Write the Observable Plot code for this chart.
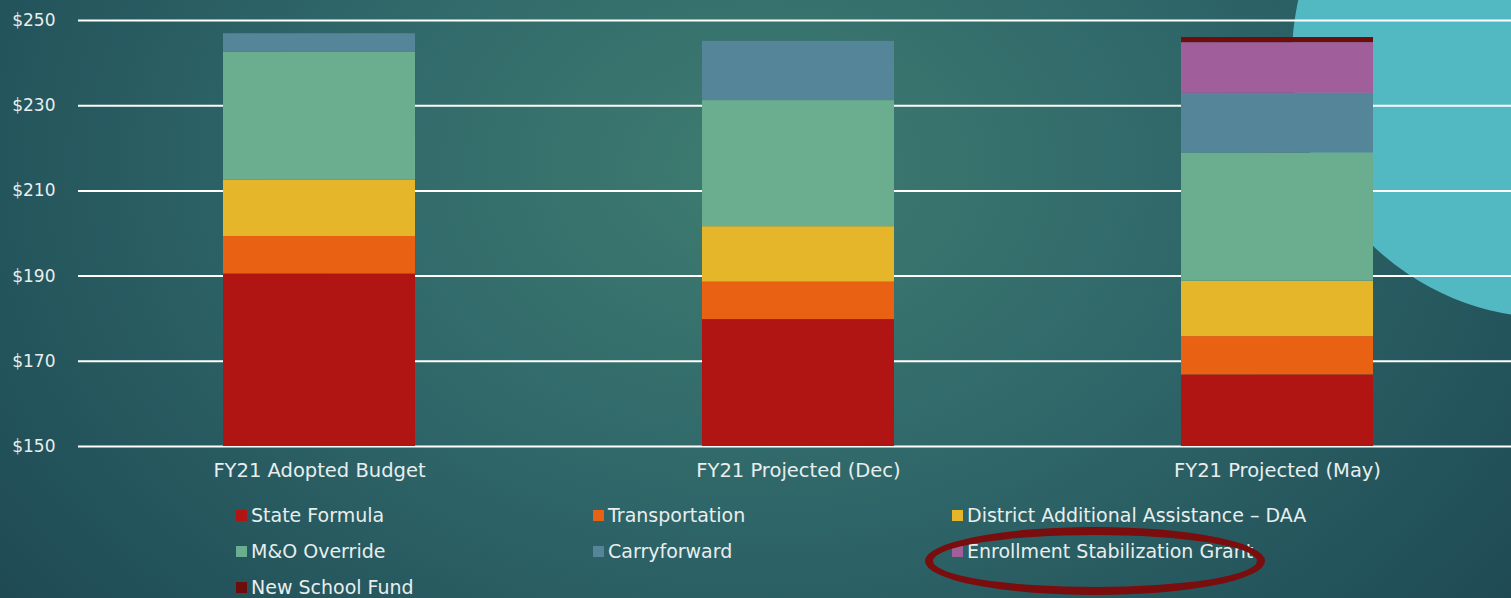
<!DOCTYPE html>
<html>
<head>
<meta charset="utf-8">
<script src="https://cdn.jsdelivr.net/npm/d3@7"></script>
<script src="https://cdn.jsdelivr.net/npm/@observablehq/plot@0.6"></script>
<style>
  html, body { margin: 0; padding: 0; }
  body {
    width: 1511px; height: 598px; overflow: hidden; position: relative;
    background: radial-gradient(ellipse 950px 700px at 760px 170px, #3e7c70 0%, #30686a 45%, #24555c 80%, #1f4a54 100%);
    font-family: "DejaVu Sans", Lato, sans-serif;
    color: #e8eeee;
  }
  #circle {
    position: absolute; left: 1292px; top: -204px; width: 522px; height: 522px;
    border-radius: 50%; background: #52b9c3;
  }
  #chart { position: absolute; left: 0; top: 0; }
  #legend {
    position: absolute; left: 236px; top: 497px;
    display: grid; grid-template-columns: 357px 359px auto; grid-auto-rows: 36px;
    font-size: 19px; align-items: center;
  }
  .item { display: flex; align-items: center; white-space: nowrap; }
  .sw { width: 11px; height: 11px; margin-right: 4px; flex: none; }
  #ring {
    position: absolute; left: 925px; top: 527px; width: 340px; height: 68px;
    box-sizing: border-box; border: 8px solid #7a0d0d; border-radius: 50%;
  }
</style>
</head>
<body>
<div id="circle"></div>
<div id="chart"></div>
<div id="legend"></div>
<div id="ring"></div>
<script>
const categories = ["FY21 Adopted Budget", "FY21 Projected (Dec)", "FY21 Projected (May)"];
const seriesNames = ["State Formula", "Transportation", "District Additional Assistance – DAA", "M&O Override", "Carryforward", "Enrollment Stabilization Grant", "New School Fund"];
const seriesColors = ["#b01513", "#e96214", "#e5b62a", "#6aae8f", "#548599", "#a05f9b", "#6e0e0c"];
const stateFormula = [190.5, 179.8, 166.8];
const transportation = [8.8, 8.8, 9.0];
const daa = [13.2, 13.0, 13.0];
const moOverride = [30.1, 29.6, 30.1];
const carryforward = [4.3, 13.9, 14.0];
const enrollmentStabilization = [0, 0, 11.9];
const newSchoolFund = [0, 0, 1.2];
const yTicks = [150, 170, 190, 210, 230, 250];

const seriesValues = [stateFormula, transportation, daa, moOverride, carryforward, enrollmentStabilization, newSchoolFund];
const rows = [];
seriesNames.forEach((s, i) => {
  categories.forEach((c, j) => rows.push({category: c, series: s, value: seriesValues[i][j]}));
});

const chart = Plot.plot({
  width: 1511,
  height: 490,
  marginLeft: 78,
  marginRight: -6,
  marginTop: 20,
  marginBottom: 44,
  style: {background: "transparent", color: "#e8eeee", fontFamily: "'DejaVu Sans', Lato, sans-serif", overflow: "hidden"},
  x: {domain: categories, paddingInner: 0.6, paddingOuter: 0.3, label: null},
  y: {domain: [150, 250], label: null},
  color: {domain: seriesNames, range: seriesColors},
  marks: [
    Plot.ruleY(yTicks, {stroke: "#ffffff", strokeWidth: 2}),
    Plot.barY(rows, Plot.stackY({x: "category", y: "value", z: "series", fill: "series", order: seriesNames, clip: true})),
    Plot.axisY({ticks: yTicks, tickFormat: d => "$" + d, tickSize: 0, tickPadding: 23, fontSize: 17, label: null}),
    Plot.axisX({tickSize: 0, tickPadding: 17, fontSize: 19.5, label: null})
  ]
});
document.getElementById("chart").appendChild(chart);

const legend = document.getElementById("legend");
seriesNames.forEach((name, i) => {
  const item = document.createElement("div");
  item.className = "item";
  const sw = document.createElement("span");
  sw.className = "sw";
  sw.style.background = seriesColors[i];
  const t = document.createElement("span");
  t.textContent = name;
  item.appendChild(sw);
  item.appendChild(t);
  legend.appendChild(item);
});
</script>
</body>
</html>
